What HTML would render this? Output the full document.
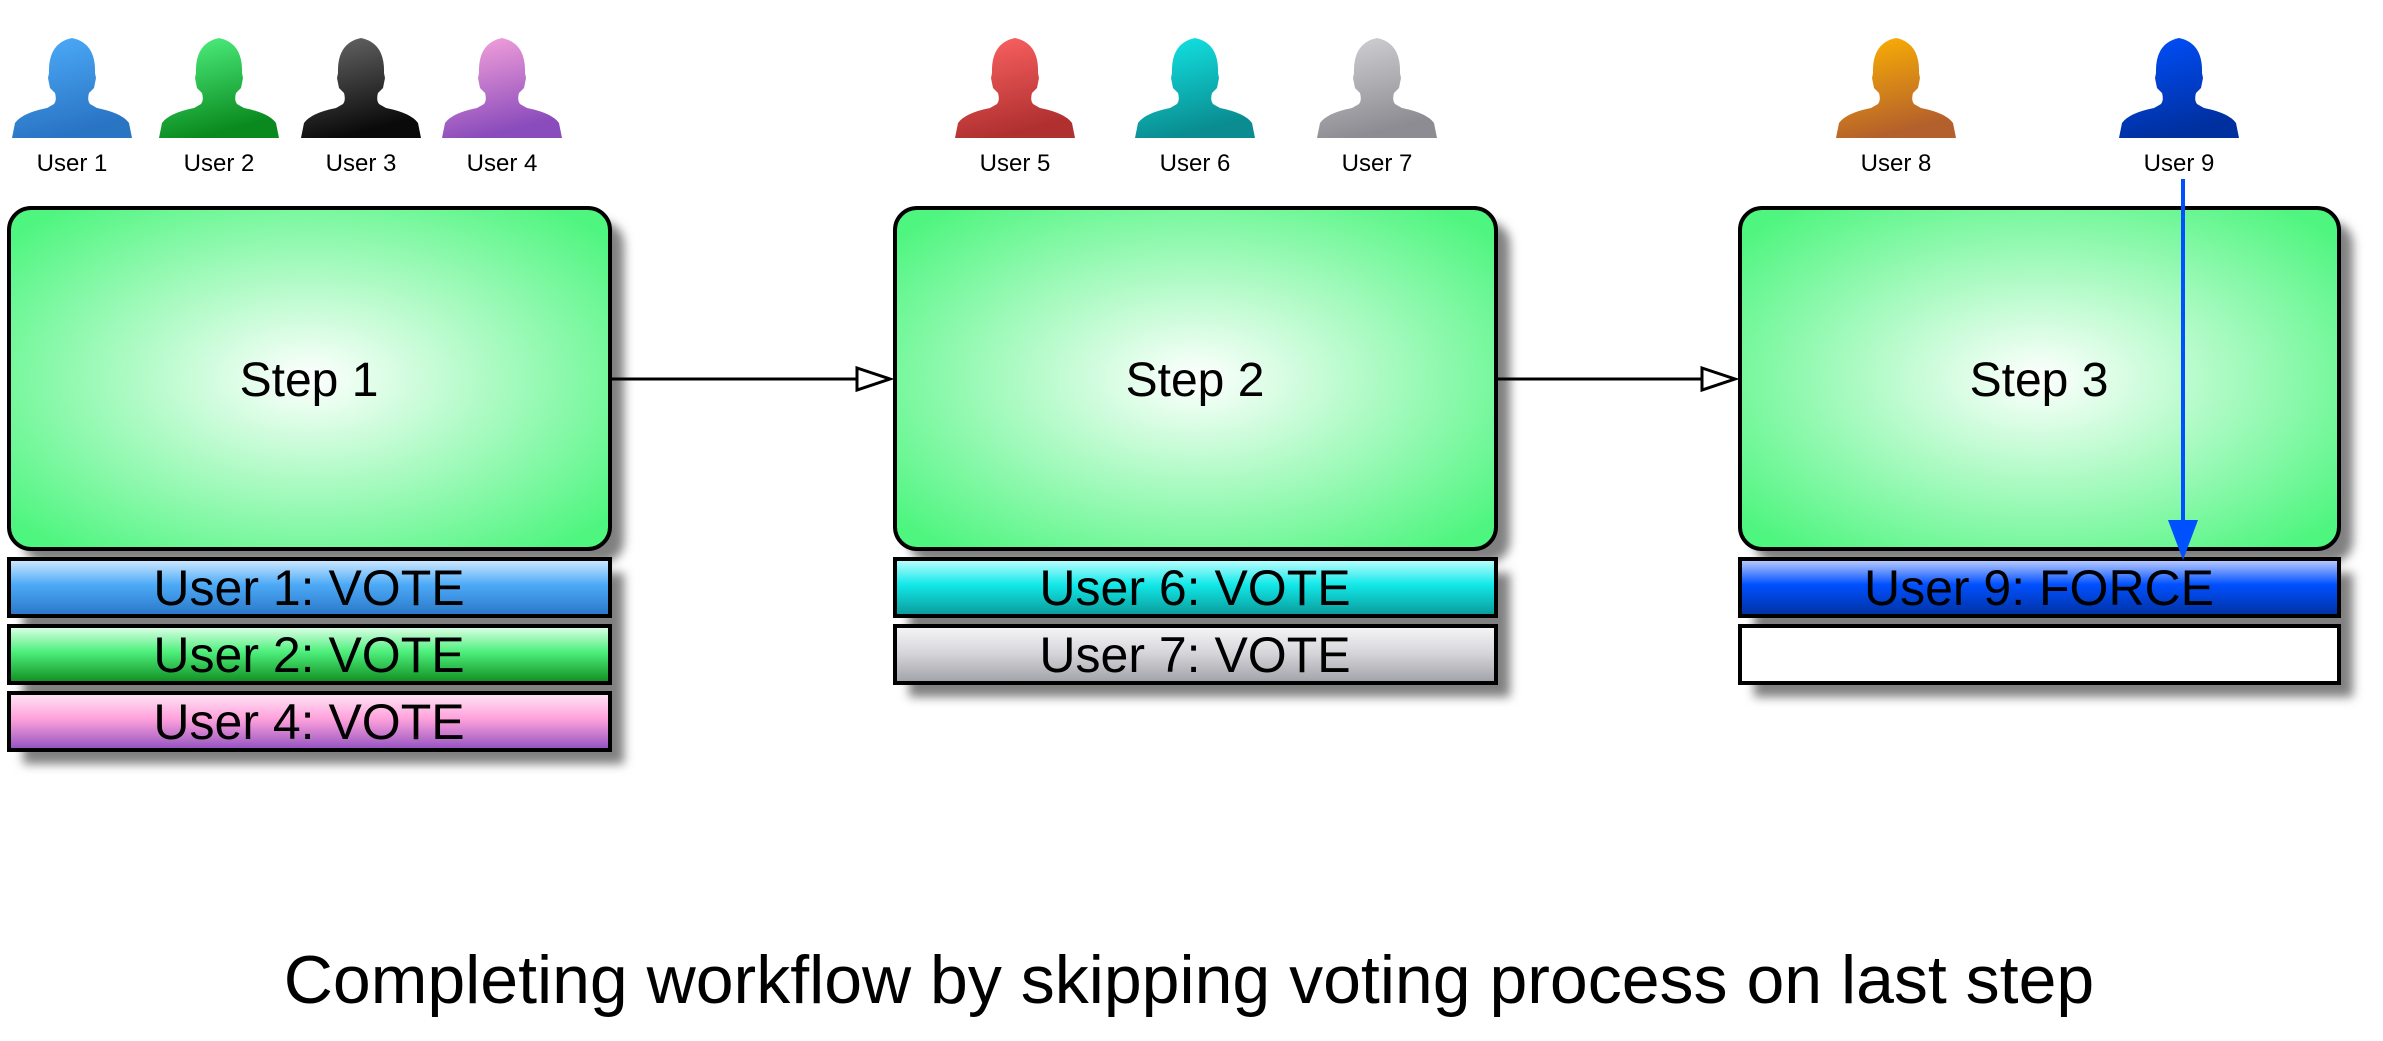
<!DOCTYPE html>
<html><head><meta charset="utf-8"><style>
html,body{margin:0;padding:0;background:#fff;}
svg{display:block;}
text{font-family:"Liberation Sans",Arial,sans-serif;}
</style></head><body>
<svg width="2383" height="1041" viewBox="0 0 2383 1041" xmlns="http://www.w3.org/2000/svg">
<defs>
<radialGradient id="stepg" cx="50%" cy="50%" r="65%">
<stop offset="0" stop-color="#ffffff"/><stop offset="1" stop-color="#4ef57f"/>
</radialGradient>
<filter id="sh" x="-10%" y="-10%" width="130%" height="140%"><feGaussianBlur stdDeviation="5"/></filter>
<path id="person" d="M0,100 L3,85 Q10,75 35,70 L42,66 Q45,62 43,55 L38,50 L36,40 L37,35 Q36,5 60,0 Q84,5 83,35 L84,40 L82,50 L77,55 Q75,62 78,66 L85,70 Q110,75 117,85 L120,100 Z"/>
<linearGradient id="p1" x1="0" y1="0" x2="0.3" y2="1"><stop offset="0" stop-color="#4eaefb"/><stop offset="1" stop-color="#2a74c4"/></linearGradient>
<linearGradient id="p2" x1="0" y1="0" x2="0.3" y2="1"><stop offset="0" stop-color="#52f585"/><stop offset="1" stop-color="#0a8a1e"/></linearGradient>
<linearGradient id="p3" x1="0" y1="0" x2="0.3" y2="1"><stop offset="0" stop-color="#6a6a6a"/><stop offset="1" stop-color="#0a0a0a"/></linearGradient>
<linearGradient id="p4" x1="0" y1="0" x2="0.3" y2="1"><stop offset="0" stop-color="#fba6dc"/><stop offset="1" stop-color="#8a4cbc"/></linearGradient>
<linearGradient id="p5" x1="0" y1="0" x2="0.3" y2="1"><stop offset="0" stop-color="#ff6464"/><stop offset="1" stop-color="#b03030"/></linearGradient>
<linearGradient id="p6" x1="0" y1="0" x2="0.3" y2="1"><stop offset="0" stop-color="#12e8e8"/><stop offset="1" stop-color="#0a8c90"/></linearGradient>
<linearGradient id="p7" x1="0" y1="0" x2="0.3" y2="1"><stop offset="0" stop-color="#d4d4d8"/><stop offset="1" stop-color="#8c8c92"/></linearGradient>
<linearGradient id="p8" x1="0" y1="0" x2="0.3" y2="1"><stop offset="0" stop-color="#ffb400"/><stop offset="1" stop-color="#b4602c"/></linearGradient>
<linearGradient id="p9" x1="0" y1="0" x2="0.3" y2="1"><stop offset="0" stop-color="#0050ff"/><stop offset="1" stop-color="#0030a0"/></linearGradient>
<linearGradient id="b1" x1="0" y1="0" x2="0" y2="1"><stop offset="0" stop-color="#d6ecff"/><stop offset="0.45" stop-color="#4caaf7"/><stop offset="1" stop-color="#2a76c6"/></linearGradient>
<linearGradient id="b2" x1="0" y1="0" x2="0" y2="1"><stop offset="0" stop-color="#e4ffec"/><stop offset="0.45" stop-color="#4ef07c"/><stop offset="1" stop-color="#0e8c1e"/></linearGradient>
<linearGradient id="b4" x1="0" y1="0" x2="0" y2="1"><stop offset="0" stop-color="#ffe6f6"/><stop offset="0.45" stop-color="#ffa2dc"/><stop offset="1" stop-color="#9050c0"/></linearGradient>
<linearGradient id="b6" x1="0" y1="0" x2="0" y2="1"><stop offset="0" stop-color="#c4ffff"/><stop offset="0.45" stop-color="#12e8e8"/><stop offset="1" stop-color="#0a9898"/></linearGradient>
<linearGradient id="b7" x1="0" y1="0" x2="0" y2="1"><stop offset="0" stop-color="#f6f6f8"/><stop offset="0.45" stop-color="#d8d8dc"/><stop offset="1" stop-color="#a0a0a8"/></linearGradient>
<linearGradient id="b9" x1="0" y1="0" x2="0" y2="1"><stop offset="0" stop-color="#c4d2ff"/><stop offset="0.45" stop-color="#0050ff"/><stop offset="1" stop-color="#0030a0"/></linearGradient>
</defs>

<g fill="#808080" filter="url(#sh)">
<rect x="23" y="222" width="601" height="341" rx="22"/>
<rect x="23" y="573" width="601" height="191"/>
<rect x="909" y="222" width="601" height="341" rx="22"/>
<rect x="909" y="573" width="601" height="124"/>
<rect x="1754" y="222" width="599" height="341" rx="22"/>
<rect x="1754" y="573" width="599" height="124"/>
</g>

<g>
<use href="#person" transform="translate(12,38)" fill="url(#p1)"/>
<use href="#person" transform="translate(159,38)" fill="url(#p2)"/>
<use href="#person" transform="translate(301,38)" fill="url(#p3)"/>
<use href="#person" transform="translate(442,38)" fill="url(#p4)"/>
<use href="#person" transform="translate(955,38)" fill="url(#p5)"/>
<use href="#person" transform="translate(1135,38)" fill="url(#p6)"/>
<use href="#person" transform="translate(1317,38)" fill="url(#p7)"/>
<use href="#person" transform="translate(1836,38)" fill="url(#p8)"/>
<use href="#person" transform="translate(2119,38)" fill="url(#p9)"/>
</g>
<g font-size="24" text-anchor="middle" fill="#000">
<text x="72" y="171">User 1</text>
<text x="219" y="171">User 2</text>
<text x="361" y="171">User 3</text>
<text x="502" y="171">User 4</text>
<text x="1015" y="171">User 5</text>
<text x="1195" y="171">User 6</text>
<text x="1377" y="171">User 7</text>
<text x="1896" y="171">User 8</text>
<text x="2179" y="171">User 9</text>
</g>

<g stroke="#000" stroke-width="4">
<rect x="9" y="208" width="601" height="341" rx="22" fill="url(#stepg)"/>
<rect x="895" y="208" width="601" height="341" rx="22" fill="url(#stepg)"/>
<rect x="1740" y="208" width="599" height="341" rx="22" fill="url(#stepg)"/>
<rect x="9" y="559" width="601" height="57" fill="url(#b1)"/>
<rect x="9" y="626" width="601" height="57" fill="url(#b2)"/>
<rect x="9" y="693" width="601" height="57" fill="url(#b4)"/>
<rect x="895" y="559" width="601" height="57" fill="url(#b6)"/>
<rect x="895" y="626" width="601" height="57" fill="url(#b7)"/>
<rect x="1740" y="559" width="599" height="57" fill="url(#b9)"/>
<rect x="1740" y="626" width="599" height="57" fill="#fff"/>
</g>
<g font-size="48" text-anchor="middle" fill="#000">
<text x="309" y="396">Step 1</text>
<text x="1195" y="396">Step 2</text>
<text x="2039" y="396">Step 3</text>
</g>
<g font-size="50" text-anchor="middle" fill="#000">
<text x="309" y="605">User 1: VOTE</text>
<text x="309" y="672">User 2: VOTE</text>
<text x="309" y="739">User 4: VOTE</text>
<text x="1195" y="605">User 6: VOTE</text>
<text x="1195" y="672">User 7: VOTE</text>
<text x="2039" y="605">User 9: FORCE</text>
</g>

<g stroke="#000" stroke-width="3" fill="#fff">
<line x1="610" y1="379" x2="857" y2="379"/>
<path d="M857,368 L890,379 L857,390 Z"/>
<line x1="1498" y1="379" x2="1702" y2="379"/>
<path d="M1702,368 L1735,379 L1702,390 Z"/>
</g>
<line x1="2183" y1="179" x2="2183" y2="522" stroke="#0050ff" stroke-width="4"/>
<path d="M2168,520 L2198,520 L2183,560 Z" fill="#0050ff"/>

<text x="1189" y="1003" font-size="68" text-anchor="middle" fill="#000">Completing workflow by skipping voting process on last step</text>
</svg>
</body></html>
